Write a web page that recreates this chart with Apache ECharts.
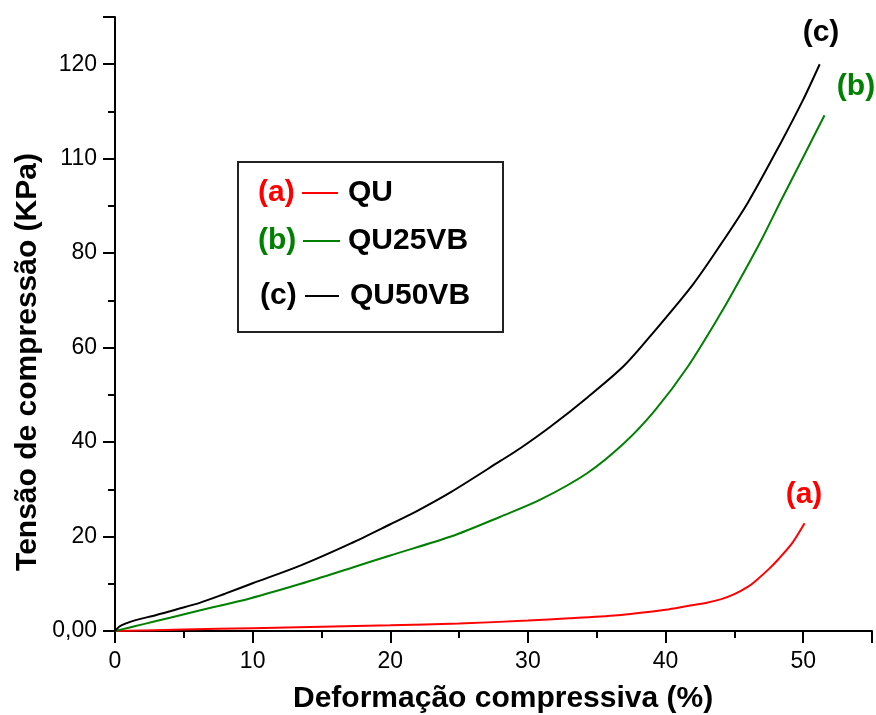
<!DOCTYPE html>
<html>
<head>
<meta charset="utf-8">
<script src="https://cdn.jsdelivr.net/npm/echarts@6/dist/echarts.min.js"></script>
<style>html,body{margin:0;padding:0;background:#fff}#c{width:876px;height:715px}</style>
</head>
<body>
<div id="c"></div>
<script>
// Data
var quX    = [0, 5, 10, 15, 20, 25, 30, 33, 36.75, 40, 41.6, 43, 44, 45, 46, 46.5, 47.5, 48.2, 49.2, 50.1];
var quY    = [0, 0.3, 0.6, 0.9, 1.2, 1.6, 2.2, 2.7, 3.4, 4.5, 5.3, 6.0, 6.7, 7.8, 9.4, 10.5, 13.1, 15.2, 18.6, 22.8];
var qu25X  = [0, 1, 2, 4, 6.2, 9.8, 13.5, 17.1, 20, 24.4, 28, 30.9, 34.3, 37, 39.2, 41.6, 44, 45.4, 47, 48.4, 50, 51.55];
var qu25Y  = [0, 0.7, 1.4, 2.8, 4.4, 6.9, 10, 13.3, 16.0, 20.0, 24.2, 27.8, 33.4, 39.8, 46.6, 55.9, 67.2, 74.4, 83, 91.2, 100.3, 109.2];
var qu50X  = [0, 0.3, 0.8, 1.5, 3, 4.5, 6.2, 8, 10, 13.5, 17.1, 20, 22, 24.4, 28, 29.5, 31.7, 34.3, 37, 39.2, 42, 44, 46, 48.4, 50, 51.2];
var qu50Y  = [0, 0.9, 1.6, 2.3, 3.4, 4.6, 6.0, 7.9, 10.1, 13.9, 18.5, 22.6, 25.5, 29.4, 36.0, 38.8, 43.4, 49.4, 56.2, 63.5, 73.4, 81.8, 90.8, 103.5, 112.5, 120];
var seriesNames  = ['QU', 'QU25VB', 'QU50VB'];
var seriesTags   = ['(a)', '(b)', '(c)'];
var xTickLabels  = ['0', '10', '20', '30', '40', '50'];
var yTickLabels  = ['0,00', '20', '40', '60', '80', '110', '120'];
var xTitle = 'Deformação compressiva (%)';
var yTitle = 'Tensão de compressão (KPa)';

function pairs(xs, ys) { return xs.map(function (x, i) { return [x, ys[i]]; }); }

var FONT = 'Liberation Sans, Arial, sans-serif';
var colors = ['#ff0000', '#008000', '#000000'];
var chart = echarts.init(document.getElementById('c'));

function seriesDef(i, xs, ys) {
  return {
    name: seriesNames[i], type: 'line', data: pairs(xs, ys),
    showSymbol: false, smooth: 0.3,
    lineStyle: { color: colors[i], width: 2 }, itemStyle: { color: colors[i] },
    animation: false
  };
}

var boldText = 'bold 30px ' + FONT;
chart.setOption({
  animation: false,
  grid: { left: 115, right: 4, top: 17, bottom: 84 },
  xAxis: {
    type: 'value', min: 0, max: 55, interval: 10,
    axisLine: { show: true, lineStyle: { color: '#000', width: 2 } },
    axisTick: { show: true, length: 12, lineStyle: { color: '#000', width: 2 } },
    minorTick: { show: true, splitNumber: 2, length: 7, lineStyle: { color: '#000', width: 2 } },
    splitLine: { show: false },
    axisLabel: {
      margin: 19, color: '#000', fontFamily: FONT, fontSize: 23,
      formatter: function (v) { var k = Math.round(v / 10); return (v % 10 === 0 && xTickLabels[k] !== undefined) ? xTickLabels[k] : ''; }
    }
  },
  yAxis: {
    type: 'value', min: 0, max: 130, interval: 20,
    axisLine: { show: true, lineStyle: { color: '#000', width: 2 } },
    axisTick: { show: true, length: 12, lineStyle: { color: '#000', width: 2 } },
    minorTick: { show: true, splitNumber: 2, length: 7, lineStyle: { color: '#000', width: 2 } },
    splitLine: { show: false },
    axisLabel: {
      margin: 18, color: '#000', fontFamily: FONT, fontSize: 23,
      formatter: function (v) { var k = Math.round(v / 20); return (v % 20 === 0 && yTickLabels[k] !== undefined) ? yTickLabels[k] : ''; }
    }
  },
  series: [seriesDef(0, quX, quY), seriesDef(1, qu25X, qu25Y), seriesDef(2, qu50X, qu50Y)],
  graphic: [
    { type: 'text', left: 293, top: 684, style: { text: xTitle, font: boldText, fill: '#000' } },
    { type: 'text', x: 28, y: 362, rotation: Math.PI / 2,
      style: { text: yTitle, font: boldText, fill: '#000', textAlign: 'center', textVerticalAlign: 'middle' } },
    // curve tags
    { type: 'text', x: 821, y: 33, style: { text: seriesTags[2], font: boldText, fill: colors[2], textAlign: 'center', textVerticalAlign: 'middle' } },
    { type: 'text', x: 856, y: 87, style: { text: seriesTags[1], font: boldText, fill: colors[1], textAlign: 'center', textVerticalAlign: 'middle' } },
    { type: 'text', x: 804, y: 495, style: { text: seriesTags[0], font: boldText, fill: colors[0], textAlign: 'center', textVerticalAlign: 'middle' } },
    // legend box
    { type: 'rect', shape: { x: 238, y: 162, width: 265, height: 170 }, style: { fill: '#fff', stroke: '#222', lineWidth: 2 }, z: 10 },
    { type: 'text', x: 258, y: 193, z: 11, style: { text: seriesTags[0], font: boldText, fill: colors[0], textVerticalAlign: 'middle' } },
    { type: 'line', z: 11, shape: { x1: 302, y1: 193, x2: 338, y2: 193 }, style: { stroke: colors[0], lineWidth: 2 } },
    { type: 'text', x: 348, y: 193, z: 11, style: { text: seriesNames[0], font: boldText, fill: '#000', textVerticalAlign: 'middle' } },
    { type: 'text', x: 258, y: 241, z: 11, style: { text: seriesTags[1], font: boldText, fill: colors[1], textVerticalAlign: 'middle' } },
    { type: 'line', z: 11, shape: { x1: 303, y1: 241, x2: 340, y2: 241 }, style: { stroke: colors[1], lineWidth: 2 } },
    { type: 'text', x: 348, y: 241, z: 11, style: { text: seriesNames[1], font: boldText, fill: '#000', textVerticalAlign: 'middle' } },
    { type: 'text', x: 260, y: 296, z: 11, style: { text: seriesTags[2], font: boldText, fill: colors[2], textVerticalAlign: 'middle' } },
    { type: 'line', z: 11, shape: { x1: 305, y1: 296, x2: 339, y2: 296 }, style: { stroke: colors[2], lineWidth: 2 } },
    { type: 'text', x: 350, y: 296, z: 11, style: { text: seriesNames[2], font: boldText, fill: '#000', textVerticalAlign: 'middle' } }
  ]
});
</script>
</body>
</html>
